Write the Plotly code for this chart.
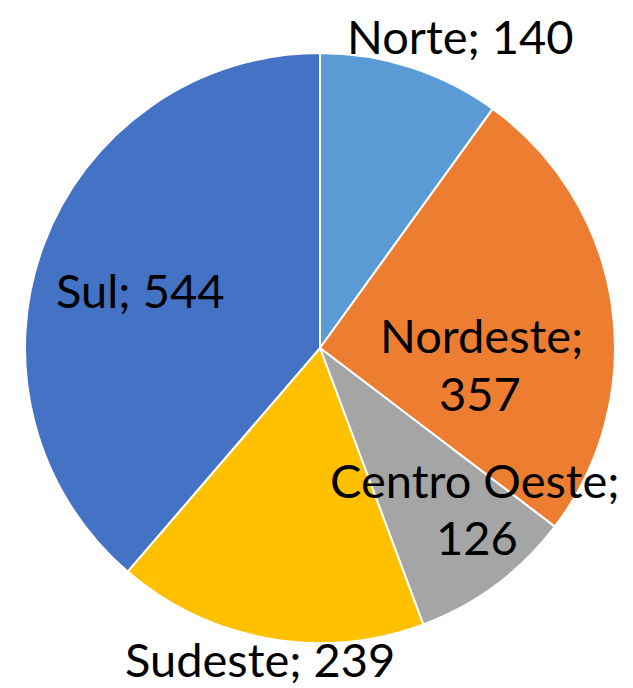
import plotly.graph_objects as go

regions = ["Norte", "Nordeste", "Centro Oeste", "Sudeste", "Sul"]
values = [140, 357, 126, 239, 544]
colors = ["#5B9BD5", "#ED7D31", "#A5A5A5", "#FFC000", "#4472C4"]

W, H = 633, 688
cx, cy, r = 320, 348, 295

fig = go.Figure(go.Pie(
    labels=regions, values=values, sort=False, direction="clockwise", rotation=0,
    marker=dict(colors=colors, line=dict(color="white", width=2)),
    textinfo="none", hoverinfo="label+value", showlegend=False,
    domain=dict(x=[(cx - r) / W, (cx + r) / W], y=[1 - (cy + r) / H, 1 - (cy - r) / H]),
))

# label lines: (text, pixel x, pixel y)
label_lines = [
    (f"{regions[0]}; {values[0]}", 460, 36),
    (f"{regions[1]};", 481, 335),
    (f"{values[1]}", 480, 393),
    (f"{regions[2]};", 475, 480),
    (f"{values[2]}", 477, 537),
    (f"{regions[3]}; {values[3]}", 260, 659),
    (f"{regions[4]}; {values[4]}", 140, 290),
]
for t, px, py in label_lines:
    fig.add_annotation(text=t, x=px / W, y=1 - py / H, xref="paper", yref="paper",
                       xanchor="center", yanchor="middle", showarrow=False,
                       font=dict(family="Lato", size=47, color="black"))

fig.update_layout(width=W, height=H, margin=dict(l=0, r=0, t=0, b=0),
                  paper_bgcolor="white", plot_bgcolor="white")
fig.write_html("out.html")
